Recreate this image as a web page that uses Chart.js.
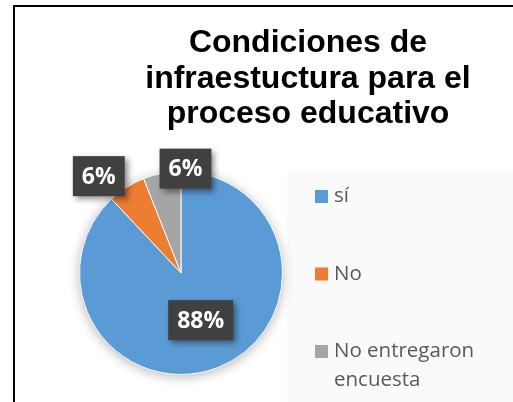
<!DOCTYPE html>
<html>
<head>
<meta charset="utf-8">
<script src="https://cdn.jsdelivr.net/npm/chart.js@4.4.1/dist/chart.umd.min.js"></script>
<style>
  html, body { margin: 0; padding: 0; background: #fff; overflow: hidden; }
</style>
</head>
<body>
<canvas id="pieChart" width="513" height="402"></canvas>
<script>
/*
 * Chart data
 */
const titleLines = ['Condiciones de', 'infraestuctura para el', 'proceso educativo'];
const categories = ['sí', 'No', 'No entregaron encuesta'];
const percentages = [88, 6, 6];
const sliceColors = ['#5B9BD5', '#ED7D31', '#A5A5A5'];

// where each data label box sits, relative to the slice's mid point
const labelNudge = [[1, 0], [-55, -54], [14, -54.5]];

// Frame, title and the shaded legend panel behind everything
const frameAndTitlePlugin = {
    id: 'frameAndTitle',
    beforeDraw: (chart) => {
        const {ctx} = chart;
        ctx.save();
        ctx.fillStyle = '#ffffff';
        ctx.fillRect(0, 0, chart.width, chart.height);

        ctx.fillStyle = '#fafafa';
        ctx.fillRect(287, 171, chart.width - 287, chart.height - 171);

        ctx.fillStyle = '#000000';
        ctx.fillRect(13, 5, 2, chart.height - 5);
        ctx.fillRect(13, 5, chart.width - 13, 2);

        ctx.font = 'bold 32px "Liberation Sans", Arial, sans-serif';
        ctx.textAlign = 'center';
        ctx.textBaseline = 'alphabetic';
        for (let i = 0; i < titleLines.length; i++) {
            ctx.fillText(titleLines[i], 308, 52 + i * 35.5);
        }
        ctx.restore();
    }
};

// Soft shadow under the whole pie
const pieShadowPlugin = {
    id: 'pieShadow',
    beforeDatasetsDraw: (chart) => {
        const {ctx} = chart;
        const arc = chart.getDatasetMeta(0).data[0];
        ctx.save();
        ctx.shadowColor = 'rgba(0, 0, 0, 0.3)';
        ctx.shadowBlur = 12;
        ctx.shadowOffsetY = 2;
        ctx.beginPath();
        ctx.arc(arc.x, arc.y, arc.outerRadius, 0, 2 * Math.PI);
        ctx.fillStyle = sliceColors[0];
        ctx.fill();
        ctx.restore();
    }
};

// Dark percentage boxes
const dataLabelPlugin = {
    id: 'dataLabels',
    afterDatasetsDraw: (chart) => {
        const {ctx} = chart;
        const meta = chart.getDatasetMeta(0);
        const values = chart.data.datasets[0].data;
        const total = values.reduce((a, b) => a + b, 0);

        ctx.save();
        ctx.font = 'bold 23px "Open Sans", sans-serif';
        meta.data.forEach((arc, i) => {
            const pos = arc.tooltipPosition();
            const cx = pos.x + labelNudge[i][0];
            const cy = pos.y + labelNudge[i][1];
            const text = Math.round(values[i] / total * 100) + '%';
            const w = ctx.measureText(text).width + 18;
            const h = 40;

            ctx.save();
            ctx.shadowColor = 'rgba(0, 0, 0, 0.45)';
            ctx.shadowBlur = 6;
            ctx.shadowOffsetX = 3;
            ctx.shadowOffsetY = 3;
            ctx.fillStyle = '#404040';
            ctx.fillRect(cx - w / 2, cy - h / 2, w, h);
            ctx.restore();

            ctx.fillStyle = '#ffffff';
            ctx.textAlign = 'center';
            ctx.textBaseline = 'middle';
            ctx.fillText(text, cx, cy + 1);
        });
        ctx.restore();
    }
};

// Legend on the right, text wraps like the original
const sideLegendPlugin = {
    id: 'sideLegend',
    afterDraw: (chart) => {
        const {ctx} = chart;
        const labels = chart.data.labels;
        const colors = chart.data.datasets[0].backgroundColor;
        const boxX = 315, textX = 334, firstY = 196.5, step = 77.5, lineStep = 29;

        ctx.save();
        ctx.font = '20.5px "Open Sans", sans-serif';
        ctx.textAlign = 'left';
        ctx.textBaseline = 'middle';
        labels.forEach((label, i) => {
            const y = firstY + i * step;
            ctx.fillStyle = colors[i];
            ctx.fillRect(boxX, y - 6.5, 13, 13);

            // simple word wrap
            let lines = [];
            let cur = '';
            label.split(' ').forEach(word => {
                const test = cur ? cur + ' ' + word : word;
                if (ctx.measureText(test).width > 170 && cur) {
                    lines.push(cur);
                    cur = word;
                } else {
                    cur = test;
                }
            });
            lines.push(cur);

            ctx.fillStyle = '#595959';
            lines.forEach((line, j) => {
                ctx.fillText(line, textX, y + j * lineStep);
            });
        });
        ctx.restore();
    }
};

function setupPieChart() {
    const ctx = document.getElementById('pieChart');

    new Chart(ctx, {
        type: 'pie',
        data: {
            labels: categories,
            datasets: [
                {
                    data: percentages,
                    backgroundColor: sliceColors,
                    borderColor: '#ffffff',
                    borderWidth: 1
                }
            ]
        },
        options: {
            responsive: false,
            animation: false,
            devicePixelRatio: 1,
            layout: {
                padding: {left: 79, top: 171, right: 230, bottom: 27}
            },
            plugins: {
                legend: {display: false},
                title: {display: false},
                tooltip: {enabled: false}
            }
        },
        plugins: [frameAndTitlePlugin, pieShadowPlugin, dataLabelPlugin, sideLegendPlugin]
    });
}

setupPieChart();
</script>
</body>
</html>
